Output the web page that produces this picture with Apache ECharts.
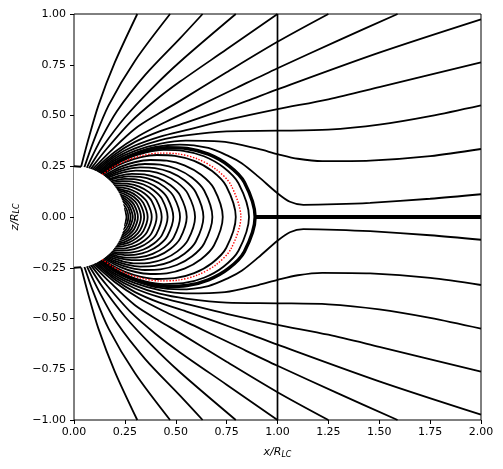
<!DOCTYPE html>
<html><head><meta charset="utf-8">
<script src="https://cdn.jsdelivr.net/npm/echarts@6/dist/echarts.min.js"></script>
<style>html,body{margin:0;padding:0;background:#fff}#c{width:503px;height:469px}</style>
</head><body><div id="c"></div>
<script>
// Axis ticks
const xTicks = [0, 0.25, 0.5, 0.75, 1, 1.25, 1.5, 1.75, 2];
const zTicks = [-1, -0.75, -0.5, -0.25, 0, 0.25, 0.5, 0.75, 1];

// Star (x, z, radius)
const star = [[0, 0, 0.25]];
const polarCapEdge = [[0, 0.25], [0.035, 0.2475]];

// Open field lines, upper hemisphere (x/R_LC, z/R_LC), footpoint outward
const openLines = [
  [[0.035,0.2475],[0.07,0.38],[0.12,0.55],[0.2,0.76],[0.311,1.0]],
  [[0.051,0.2447],[0.095,0.37],[0.17,0.55],[0.3,0.77],[0.472,1.0]],
  [[0.063,0.242],[0.12,0.36],[0.21,0.52],[0.35,0.70],[0.521,0.88],[0.632,1.0]],
  [[0.073,0.239],[0.14,0.345],[0.25,0.49],[0.38,0.63],[0.521,0.765],[0.795,1.0]],
  [[0.082,0.236],[0.16,0.335],[0.28,0.47],[0.40,0.575],[0.521,0.667],[0.75,0.826],[1.0,1.0]],
  [[0.09,0.233],[0.18,0.325],[0.30,0.435],[0.42,0.512],[0.521,0.572],[0.75,0.713],[1.0,0.863],[1.25,1.0]],
  [[0.097,0.23],[0.2,0.32],[0.32,0.40],[0.45,0.468],[0.6,0.54],[0.8,0.637],[1.0,0.733],[1.3,0.87],[1.59,1.0]],
  [[0.104,0.2275],[0.2,0.308],[0.3,0.37],[0.42,0.422],[0.55,0.465],[0.7,0.517],[0.85,0.572],[1.0,0.629],[1.5,0.81],[2.0,0.974]],
  [[0.111,0.224],[0.2,0.298],[0.3,0.352],[0.42,0.395],[0.55,0.428],[0.75,0.477],[1.0,0.531],[1.25,0.58],[1.5,0.64],[2.0,0.762]],
  [[0.117,0.22],[0.2,0.288],[0.3,0.338],[0.42,0.378],[0.55,0.402],[0.75,0.422],[1.0,0.425],[1.25,0.43],[1.5,0.455],[1.75,0.497],[2.0,0.55]],
  [[0.122,0.218],[0.2,0.279],[0.3,0.326],[0.42,0.36],[0.55,0.376],[0.742,0.37],[0.906,0.335],[1.0,0.31],[1.1,0.287],[1.22,0.275],[1.455,0.278],[1.75,0.3],[2.0,0.335]],
  [[0.128,0.215],[0.2,0.27],[0.3,0.315],[0.40,0.345],[0.52,0.357],[0.66,0.34],[0.76,0.3],[0.824,0.265],[0.906,0.199],[1.0,0.117],[1.061,0.075],[1.127,0.06],[1.291,0.063],[1.455,0.07],[1.75,0.09],[2.0,0.112]]
];

// Closed field lines, upper half from footpoint to equator crossing
const closedLines = [
  [[0.1348,0.2106],[0.2014,0.2573],[0.2683,0.2907],[0.3508,0.3173],[0.4403,0.3302],[0.5364,0.3262],[0.6386,0.2992],[0.7343,0.2448],[0.8089,0.1651],[0.86,0]],
  [[0.1402,0.207],[0.1862,0.2379],[0.248,0.2687],[0.3243,0.2933],[0.407,0.3053],[0.4958,0.3015],[0.5903,0.2766],[0.6788,0.2263],[0.7478,0.1526],[0.795,0]],
  [[0.1462,0.2028],[0.2281,0.2471],[0.2982,0.2697],[0.3743,0.2807],[0.4559,0.2773],[0.5428,0.2543],[0.6241,0.208],[0.6876,0.1404],[0.731,0]],
  [[0.1516,0.1988],[0.2122,0.2298],[0.2774,0.2509],[0.3482,0.2611],[0.4241,0.2579],[0.5049,0.2366],[0.5806,0.1935],[0.6396,0.1306],[0.68,0]],
  [[0.1567,0.1948],[0.1984,0.215],[0.2594,0.2346],[0.3256,0.2442],[0.3967,0.2412],[0.4722,0.2213],[0.543,0.181],[0.5982,0.1221],[0.636,0]],
  [[0.1621,0.1904],[0.1856,0.2011],[0.2427,0.2195],[0.3046,0.2285],[0.3711,0.2257],[0.4418,0.207],[0.508,0.1693],[0.5597,0.1142],[0.595,0]],
  [[0.1679,0.1852],[0.226,0.2044],[0.2836,0.2127],[0.3455,0.2101],[0.4113,0.1927],[0.473,0.1577],[0.5211,0.1064],[0.554,0]],
  [[0.1732,0.1803],[0.2125,0.1922],[0.2668,0.2001],[0.325,0.1976],[0.3868,0.1813],[0.4448,0.1483],[0.4901,0.1],[0.521,0]],
  [[0.1789,0.1746],[0.1991,0.18],[0.2499,0.1874],[0.3044,0.1851],[0.3623,0.1698],[0.4167,0.1389],[0.459,0.0937],[0.488,0]],
  [[0.1843,0.1689],[0.2355,0.1766],[0.2869,0.1745],[0.3416,0.16],[0.3927,0.1309],[0.4327,0.0883],[0.46,0]],
  [[0.1904,0.162],[0.2207,0.1655],[0.2688,0.1635],[0.32,0.1499],[0.368,0.1227],[0.4054,0.0828],[0.431,0]],
  [[0.1962,0.155],[0.2252,0.1562],[0.2532,0.154],[0.3015,0.1412],[0.3466,0.1155],[0.3819,0.078],[0.406,0]],
  [[0.2023,0.147],[0.2383,0.1449],[0.2836,0.1329],[0.3262,0.1087],[0.3593,0.0733],[0.382,0]],
  [[0.2078,0.1391],[0.2258,0.1373],[0.2688,0.1259],[0.3091,0.103],[0.3405,0.0695],[0.362,0]],
  [[0.2128,0.1312],[0.2331,0.1274],[0.2562,0.12],[0.2946,0.0982],[0.3245,0.0662],[0.345,0]],
  [[0.2179,0.1225],[0.2443,0.1145],[0.2809,0.0936],[0.3095,0.0632],[0.329,0]],
  [[0.2231,0.1129],[0.2504,0.101],[0.2681,0.0894],[0.2953,0.0603],[0.314,0]],
  [[0.2278,0.1029],[0.257,0.0857],[0.2831,0.0578],[0.301,0]],
  [[0.2325,0.0918],[0.255,0.0752],[0.2718,0.0555],[0.289,0]],
  [[0.2371,0.0793],[0.2574,0.059],[0.2697,0.0385],[0.278,0]],
  [[0.2419,0.0631],[0.259,0.037],[0.267,0]],
  [[0.2461,0.044],[0.258,0]]
];

// Last closed line (separatrix), upper half
const separatrix = [[0.1325,0.212],[0.2084,0.2663],[0.2777,0.3008],[0.363,0.3283],[0.4557,0.3418],[0.5551,0.3376],[0.6608,0.3096],[0.7599,0.2533],[0.8371,0.1709],[0.89,0]];
// Dipole reference line (red dotted), upper half
const dipoleLine = [[0.138,0.2084],[0.192,0.2453],[0.2558,0.2772],[0.3345,0.3025],[0.4198,0.3149],[0.5114,0.311],[0.6089,0.2853],[0.7001,0.2334],[0.7713,0.1574],[0.82,0]];
// Equatorial current sheet and light cylinder
const currentSheet = [[0.89,0],[2.0,0]];
const lightCylinder = [[1,-1],[1,1]];

const mirror = pts => pts.map(p => [p[0], -p[1]]);
const loop = half => half.concat(mirror(half).reverse().slice(1));

const series = [];
function line(data, opt) {
  series.push(Object.assign({
    type: 'line', data: data, symbol: 'none', smooth: 0.3, silent: true,
    animation: false, clip: true,
    lineStyle: { color: '#000', width: 1.8 }, z: 2
  }, opt || {}));
}
closedLines.forEach(h => line(loop(h)));
openLines.forEach(h => { line(h); line(mirror(h)); });
line(loop(separatrix), { lineStyle: { color: '#000', width: 3.4 }, z: 3 });
line(currentSheet, { smooth: false, lineStyle: { color: '#000', width: 4 }, z: 3 });
line(lightCylinder, { smooth: false, lineStyle: { color: '#000', width: 1.7 }, z: 3 });
line(loop(dipoleLine), { lineStyle: { color: '#ff0000', width: 1.4, type: [1.4, 1.6] }, z: 4 });
series.push({
  type: 'custom', data: star, z: 5, silent: true, animation: false,
  renderItem: (params, api) => {
    const c = api.coord([api.value(0), api.value(1)]);
    const r = api.size([api.value(2), 0])[0];
    return { type: 'sector', shape: { cx: c[0], cy: c[1], r0: 0, r: r,
      startAngle: -Math.PI / 2, endAngle: Math.PI / 2, clockwise: true },
      style: { fill: '#fff', stroke: null } };
  }
});
line(polarCapEdge, { smooth: false, z: 6 });
line(mirror(polarCapEdge), { smooth: false, z: 6 });

const fmt = v => (v < 0 ? '\u2212' : '') + Math.abs(v).toFixed(2);
const axisCommon = {
  axisLine: { show: false, onZero: false },
  axisTick: { show: true, length: 4, lineStyle: { color: '#000', width: 1 } },
  splitLine: { show: false },
  axisLabel: { color: '#000', fontFamily: 'DejaVu Sans', fontSize: 11, formatter: fmt }
};
const chart = echarts.init(document.getElementById('c'), null, { renderer: 'canvas' });
chart.setOption({
  backgroundColor: '#fff',
  grid: { left: 74, right: 22, top: 14, bottom: 49, show: true, borderColor: '#000', borderWidth: 1, backgroundColor: 'transparent' },
  xAxis: Object.assign({}, axisCommon, {
    type: 'value', min: xTicks[0], max: xTicks[xTicks.length - 1], interval: 0.25,
    axisLabel: Object.assign({}, axisCommon.axisLabel, { margin: 7 }),
    name: '{a|x/R}{b|LC}', nameLocation: 'middle', nameGap: 26,
    nameTextStyle: { rich: {
      a: { fontFamily: 'DejaVu Sans', fontStyle: 'italic', fontSize: 11, color: '#000' },
      b: { fontFamily: 'DejaVu Sans', fontStyle: 'italic', fontSize: 8, color: '#000', padding: [5, 0, 0, 0] } } }
  }),
  yAxis: Object.assign({}, axisCommon, {
    type: 'value', min: zTicks[0], max: zTicks[zTicks.length - 1], interval: 0.25,
    axisLabel: Object.assign({}, axisCommon.axisLabel, { margin: 8 }),
    name: '{a|z/R}{b|LC}', nameLocation: 'middle', nameGap: 48, nameRotate: 90,
    nameTextStyle: { rich: {
      a: { fontFamily: 'DejaVu Sans', fontStyle: 'italic', fontSize: 11, color: '#000' },
      b: { fontFamily: 'DejaVu Sans', fontStyle: 'italic', fontSize: 8, color: '#000', padding: [5, 0, 0, 0] } } }
  }),
  series: series
});
</script></body></html>
